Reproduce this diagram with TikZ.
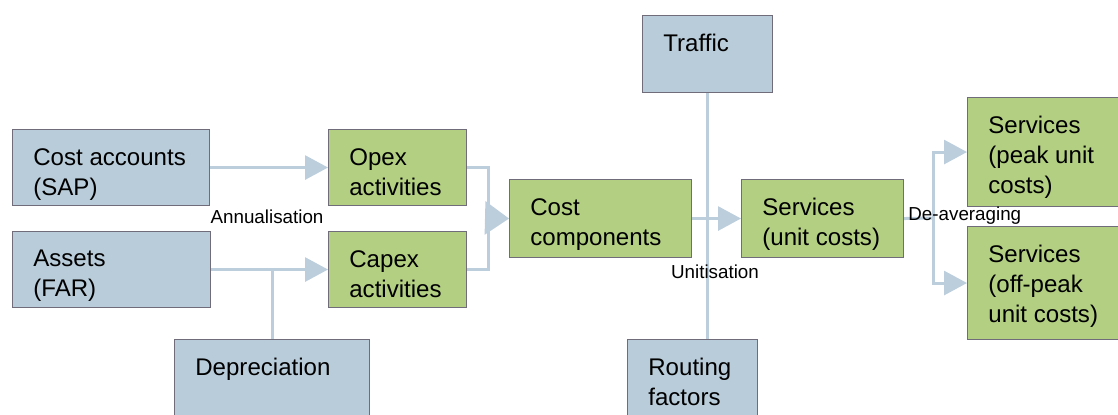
\documentclass[tikz,border=0pt]{standalone}
\usepackage{fontspec}
\setmainfont{Liberation Sans}
\usetikzlibrary{arrows.meta}

\definecolor{boxblue}{RGB}{185,204,218}
\definecolor{boxgreen}{RGB}{179,207,129}
\definecolor{boxline}{RGB}{112,108,122}
\definecolor{linkblue}{RGB}{188,205,219}

\begin{document}
\begin{tikzpicture}[x=0.02cm, y=-0.02cm,
  bluebox/.style={draw=boxline, fill=boxblue, line width=0.6pt, anchor=north west, inner sep=0pt},
  greenbox/.style={bluebox, fill=boxgreen},
  boxtext/.style={anchor=north west, inner sep=0pt, align=left, font=\fontsize{13.7}{17}\selectfont},
  lbl/.style={inner sep=0pt, font=\fontsize{10.7}{13}\selectfont},
  link/.style={draw=linkblue, line width=0.06cm},
  flow/.style={link, -{Triangle[length=0.46cm, width=0.48cm]}},
  bigflow/.style={link, -{Triangle[length=0.48cm, width=0.66cm]}}]

\clip (0,0) rectangle (1118,414);

% inputs
\node[bluebox, minimum width=3.94cm, minimum height=1.52cm] (costacc) at (12,129) {};
\node[bluebox, minimum width=3.96cm, minimum height=1.52cm] (assets) at (12,231) {};
\node[bluebox, minimum width=3.9cm, minimum height=1.9cm] (dep) at (174,339) {};
\node[bluebox, minimum width=2.6cm, minimum height=1.54cm] (traffic) at (642,15) {};
\node[bluebox, minimum width=2.6cm, minimum height=1.7cm] (routing) at (627,339) {};

% activities and costs
\node[greenbox, minimum width=2.76cm, minimum height=1.52cm] (opex) at (328,129) {};
\node[greenbox, minimum width=2.76cm, minimum height=1.52cm] (capex) at (328,231) {};
\node[greenbox, minimum width=3.64cm, minimum height=1.56cm] (cost) at (509,179) {};
\node[greenbox, minimum width=3.24cm, minimum height=1.56cm] (svc) at (741,179) {};
\node[greenbox, minimum width=3.5cm, minimum height=2.18cm] (peak) at (967,97) {};
\node[greenbox, minimum width=3.5cm, minimum height=2.26cm] (offpeak) at (967,226) {};

% box texts
\node[boxtext] (costacct) at ([shift={(21,19)}]costacc.north west) {Cost accounts\\(SAP)};
\node[boxtext] (assetst) at ([shift={(21,19)}]assets.north west) {Assets\\(FAR)};
\node[boxtext] (dept) at ([shift={(21,19)}]dep.north west) {Depreciation};
\node[boxtext] (traffict) at ([shift={(21,19)}]traffic.north west) {Traffic};
\node[boxtext] (routingt) at ([shift={(21,19)}]routing.north west) {Routing\\factors};
\node[boxtext] (opext) at ([shift={(21,19)}]opex.north west) {Opex\\activities};
\node[boxtext] (capext) at ([shift={(21,19)}]capex.north west) {Capex\\activities};
\node[boxtext] (costt) at ([shift={(21,19)}]cost.north west) {Cost\\components};
\node[boxtext] (svct) at ([shift={(21,19)}]svc.north west) {Services\\(unit costs)};
\node[boxtext] (peakt) at ([shift={(21,19)}]peak.north west) {Services\\(peak unit\\costs)};
\node[boxtext] (offpeakt) at ([shift={(21,19)}]offpeak.north west) {Services\\(off-peak\\unit costs)};

% connectors
\draw[flow] (costacc) -- (opex);
\draw[flow] (assets) -- (capex);
\draw[link] (dep.north) -- (dep.north |- assets.east);

\coordinate (merge) at (488,218);
\draw[link] (opex.east) -| (merge);
\draw[link] (capex.east) -| (merge);
\draw[bigflow] (merge) -- (cost.west);

\draw[flow] (cost) -- (svc);
\draw[link] (traffic.south) -- (traffic.south |- routing.north);

\coordinate (split) at (933,218);
\draw[link] (svc.east) -- (split);
\draw[flow] (split) |- (peak.west);
\draw[flow] (split) |- (offpeak.west);

% labels
\node[lbl] (annual) at (267,217) {Annualisation};
\node[lbl] (unitis) at (715,272) {Unitisation};
\node[lbl, anchor=west] (deavg) at (908,216) {De-averaging};
\end{tikzpicture}
\end{document}
